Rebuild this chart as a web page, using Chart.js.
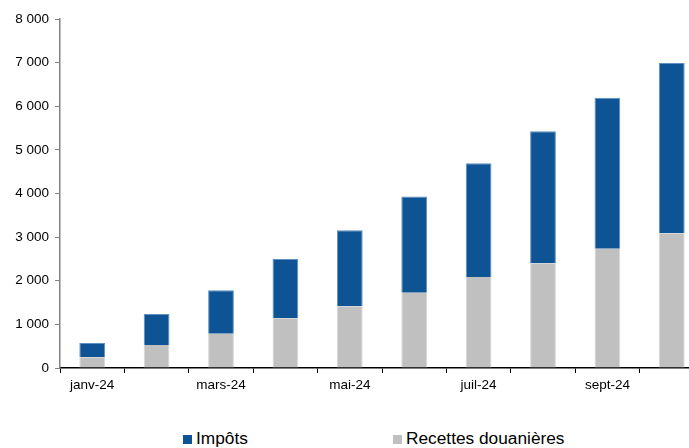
<!DOCTYPE html>
<html>
<head>
<meta charset="utf-8">
<script src="https://cdn.jsdelivr.net/npm/chart.js@4"></script>
<style>
  html, body { margin: 0; padding: 0; background: #fff; overflow: hidden; }
  #wrap { position: relative; width: 689px; height: 448px; overflow: hidden; }
  #chartBox { position: absolute; left: 0; top: 0; width: 724px; height: 401px; }
  .legend { position: absolute; top: 428px; font: 17.3px "Liberation Sans", Arial, sans-serif; color: #000; white-space: nowrap; }
  .legend span.box { display: inline-block; width: 9px; height: 9px; margin-right: 4px; vertical-align: 0px; }
</style>
</head>
<body>
<div id="wrap">
  <div id="chartBox"><canvas id="chart" width="724" height="401"></canvas></div>
  <div class="legend" id="legImpots" style="left:183px"></div>
  <div class="legend" id="legDouane" style="left:393px"></div>
</div>
<script>
// Data
const months = ['janv-24', 'févr-24', 'mars-24', 'avr-24', 'mai-24', 'juin-24', 'juil-24', 'août-24', 'sept-24', 'oct-24'];
const recettesDouanieres = [245, 527, 787, 1140, 1415, 1727, 2087, 2401, 2736, 3089];
const impots = [330, 711, 995, 1360, 1743, 2202, 2608, 3028, 3457, 3900];
const yTicks = [0, 1000, 2000, 3000, 4000, 5000, 6000, 7000, 8000];

const blue = '#0E5394';
const grey = '#C0C0C0';
const font = { family: '"Liberation Sans", Arial, sans-serif', size: 13.5 };

function fmt(v) {
  return String(v).replace(/\B(?=(\d{3})+(?!\d))/g, ' ');
}

const ctx = document.getElementById('chart').getContext('2d');
new Chart(ctx, {
  type: 'bar',
  data: {
    labels: months,
    datasets: [
      {
        label: 'Recettes douanières',
        data: recettesDouanieres,
        backgroundColor: grey,
        borderColor: '#d6d6d6',
        borderWidth: { left: 1, right: 1, top: 0, bottom: 0 },
        barPercentage: 0.4,
        categoryPercentage: 1
      },
      {
        label: 'Impôts',
        data: impots,
        backgroundColor: blue,
        borderColor: '#5f8fc0',
        borderWidth: { left: 1, right: 1, top: 1, bottom: 0 },
        barPercentage: 0.4,
        categoryPercentage: 1
      }
    ]
  },
  options: {
    responsive: false,
    animation: false,
    layout: { padding: { top: 19, right: 20, left: 0, bottom: 0 } },
    plugins: { legend: { display: false }, tooltip: { enabled: false } },
    scales: {
      x: {
        stacked: true,
        afterFit: s => { s.height = 33; },
        border: { color: '#000', width: 1.5 },
        grid: { drawOnChartArea: false, tickLength: 5, color: '#000', offset: true },
        ticks: {
          autoSkip: false,
          maxRotation: 0,
          padding: 4,
          color: '#000',
          font: font,
          callback: (v, i) => (i % 2 === 0 ? months[i] : '')
        }
      },
      y: {
        stacked: true,
        min: 0,
        max: 8000,
        afterFit: s => { s.width = 60; },
        afterBuildTicks: s => { s.ticks = yTicks.map(v => ({ value: v })); },
        border: { color: '#808080', width: 1.5 },
        grid: { drawOnChartArea: false, tickLength: 5, color: '#808080' },
        ticks: {
          padding: 6,
          color: '#000',
          font: font,
          callback: v => fmt(v)
        }
      }
    }
  }
});

// Legend as real text below the chart
function legendItem(id, color, text) {
  const el = document.getElementById(id);
  const box = document.createElement('span');
  box.className = 'box';
  box.style.background = color;
  el.appendChild(box);
  el.appendChild(document.createTextNode(text));
}
legendItem('legImpots', blue, 'Impôts');
legendItem('legDouane', grey, 'Recettes douanières');
</script>
</body>
</html>
